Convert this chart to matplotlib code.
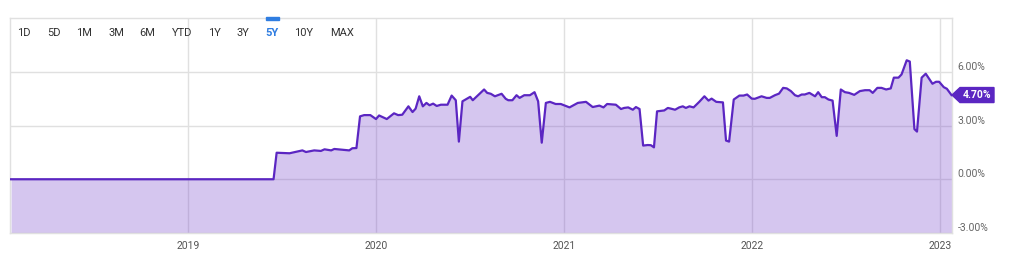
import pandas as pd
import matplotlib.pyplot as plt
import matplotlib.dates as mdates
from matplotlib.patches import Polygon, Rectangle

plt.rcParams['font.family'] = ['Roboto', 'DejaVu Sans']

# yield history
dates = [
    "2018-01-22", "2019-06-16", "2019-06-22", "2019-07-17", "2019-08-11", "2019-08-18",
    "2019-09-03", "2019-09-16", "2019-09-23", "2019-10-06", "2019-10-12", "2019-11-10",
    "2019-11-16", "2019-11-24", "2019-12-01", "2019-12-09", "2019-12-21", "2020-01-01",
    "2020-01-07", "2020-01-22", "2020-02-05", "2020-02-13", "2020-02-21", "2020-03-04",
    "2020-03-12", "2020-03-18", "2020-03-25", "2020-04-01", "2020-04-08", "2020-04-14",
    "2020-04-21", "2020-04-28", "2020-05-06", "2020-05-19", "2020-05-27", "2020-06-04",
    "2020-06-10", "2020-06-17", "2020-07-02", "2020-07-07", "2020-07-29", "2020-08-04",
    "2020-08-11", "2020-08-19", "2020-09-01", "2020-09-09", "2020-09-14", "2020-09-22",
    "2020-09-30", "2020-10-06", "2020-10-15", "2020-10-26", "2020-11-04", "2020-11-11",
    "2020-11-18", "2020-11-26", "2020-12-04", "2020-12-15", "2020-12-25", "2021-01-11",
    "2021-01-27", "2021-02-12", "2021-02-25", "2021-03-10", "2021-03-18", "2021-03-25",
    "2021-04-11", "2021-04-21", "2021-04-27", "2021-05-05", "2021-05-14", "2021-05-20",
    "2021-05-27", "2021-06-03", "2021-06-12", "2021-06-18", "2021-06-24", "2021-06-30",
    "2021-07-14", "2021-07-21", "2021-07-27", "2021-08-04", "2021-08-12", "2021-08-19",
    "2021-08-25", "2021-09-01", "2021-09-09", "2021-09-20", "2021-09-30", "2021-10-08",
    "2021-10-14", "2021-10-23", "2021-11-05", "2021-11-11", "2021-11-17", "2021-11-26",
    "2021-12-07", "2021-12-15", "2021-12-22", "2021-12-31", "2022-01-06", "2022-01-19",
    "2022-01-29", "2022-02-04", "2022-02-14", "2022-02-22", "2022-03-02", "2022-03-09",
    "2022-03-17", "2022-03-25", "2022-03-31", "2022-04-07", "2022-04-13", "2022-04-22",
    "2022-05-03", "2022-05-09", "2022-05-16", "2022-05-22", "2022-05-29", "2022-06-06",
    "2022-06-14", "2022-06-22", "2022-06-30", "2022-07-08", "2022-07-18", "2022-07-29",
    "2022-08-08", "2022-08-17", "2022-08-23", "2022-09-01", "2022-09-09", "2022-09-18",
    "2022-09-27", "2022-10-03", "2022-10-12", "2022-10-18", "2022-10-28", "2022-11-03",
    "2022-11-12", "2022-11-17", "2022-11-26", "2022-12-04", "2022-12-17", "2022-12-24",
    "2022-12-30", "2023-01-08", "2023-01-14", "2023-01-23",
]
values = [
    0.00, 0.00, 1.48, 1.45, 1.61, 1.52,
    1.61, 1.58, 1.67, 1.61, 1.69, 1.61,
    1.73, 1.74, 3.51, 3.58, 3.58, 3.36,
    3.56, 3.36, 3.68, 3.58, 3.60, 4.07,
    3.75, 3.94, 4.63, 4.07, 4.26, 4.13,
    4.22, 4.09, 4.16, 4.16, 4.67, 4.41,
    2.10, 4.35, 4.60, 4.41, 5.01, 4.82,
    4.77, 4.63, 4.77, 4.49, 4.41, 4.41,
    4.69, 4.54, 4.69, 4.69, 4.86, 4.35,
    2.04, 4.26, 4.32, 4.20, 4.20, 4.01,
    4.26, 4.32, 4.03, 4.11, 4.01, 4.20,
    4.16, 3.92, 3.98, 4.01, 3.88, 4.03,
    3.92, 1.88, 1.91, 1.90, 1.78, 3.79,
    3.84, 3.98, 3.94, 3.88, 4.01, 4.07,
    3.98, 4.07, 4.01, 4.32, 4.63, 4.39,
    4.50, 4.32, 4.29, 2.16, 2.10, 4.45,
    4.67, 4.67, 4.73, 4.50, 4.49, 4.63,
    4.54, 4.54, 4.69, 4.78, 5.10, 5.07,
    4.92, 4.69, 4.63, 4.73, 4.73, 4.82,
    4.63, 4.86, 4.58, 4.58, 4.45, 4.39,
    2.42, 5.01, 4.86, 4.82, 4.71, 4.92,
    4.97, 4.97, 4.82, 5.10, 5.10, 5.01,
    5.07, 5.67, 5.67, 5.85, 6.64, 6.57,
    2.80, 2.66, 5.67, 5.89, 5.33, 5.44,
    5.44, 5.14, 5.05, 4.70,
]
y_ticks = [-3, 0, 3, 6]
x_years = ["2019", "2020", "2021", "2022", "2023"]
ranges = ["1D", "5D", "1M", "3M", "6M", "YTD", "1Y", "3Y", "5Y", "10Y", "MAX"]
range_x = [24, 54, 84, 116, 147, 182, 214, 243, 272, 304, 342]
active_range = "5Y"

LINE = '#5b26c2'
GRID = '#e0e0e0'

x = pd.to_datetime(dates)

fig = plt.figure(figsize=(10.09, 2.60), dpi=100)
ax = fig.add_axes([10 / 1009, 27 / 260, 942 / 1009, 215 / 260])

ax.fill_between(x, values, -3, color='#7644cd', alpha=0.3, linewidth=0, zorder=2)
ax.plot(x, values, color=LINE, linewidth=1.6, zorder=3)

ax.set_xlim(pd.Timestamp("2018-01-20"), pd.Timestamp("2023-01-24"))
ax.set_ylim(-3, 9)

ax.set_xticks(pd.to_datetime([y + "-01-01" for y in x_years]))
ax.xaxis.set_major_formatter(mdates.DateFormatter('%Y'))
ax.set_yticks(y_ticks)
ax.set_yticklabels([f"{v:.2f}%" for v in y_ticks])
ax.yaxis.tick_right()
for lbl in ax.get_yticklabels():
    lbl.set_va('bottom')
ax.tick_params(axis='y', length=0, pad=4, labelsize=7.5, labelcolor='#666666')
ax.tick_params(axis='x', length=0, pad=6, labelsize=7.5, labelcolor='#555555')
ax.grid(True, color=GRID, linewidth=1, zorder=1)
ax.set_axisbelow(True)
for s in ax.spines.values():
    s.set_color(GRID)
    s.set_linewidth(1)

# range buttons
for label, px in zip(ranges, range_x):
    active = label == active_range
    fig.text(px / 1009, 1 - 33 / 260, label, ha='center', va='center', fontsize=8,
             color='#2f7de1' if active else '#333333',
             fontweight='bold' if active else 'normal')
fig.patches.append(Rectangle((266 / 1009, 1 - 20 / 260), 13 / 1009, 3 / 260,
                             transform=fig.transFigure, color='#2f7de1', zorder=5))

# last value tag
last = values[-1]
tx, ty = ax.transData.transform((mdates.date2num(x[-1]), last))
tip = ax.transAxes.transform((1, 0))[0]
tag = Polygon([(tip, ty), (tip + 8, ty + 7.5), (tip + 42, ty + 7.5),
               (tip + 42, ty - 7.5), (tip + 8, ty - 7.5)],
              closed=True, transform=None, color=LINE, clip_on=False, zorder=6)
fig.patches.append(tag)
fig.text((tip + 25) / 1009, ty / 260, f"{last:.2f}%", ha='center', va='center',
         fontsize=7.5, color='white', fontweight='bold', zorder=7)

fig.savefig('out.png', dpi=100)
